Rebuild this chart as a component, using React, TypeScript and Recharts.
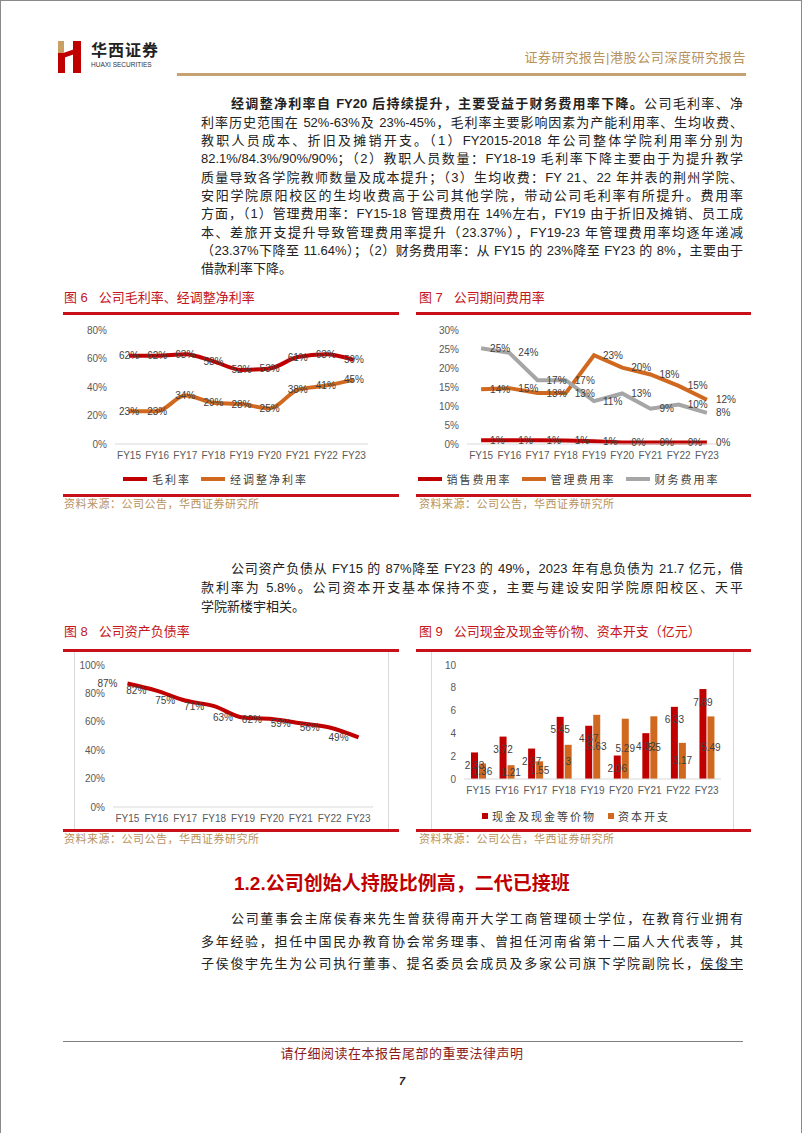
import React from "react";
import {
  LineChart,
  Line,
  BarChart,
  Bar,
  XAxis,
  YAxis,
  Legend,
  LabelList,
} from "recharts";

// chart data
const years = ["FY15", "FY16", "FY17", "FY18", "FY19", "FY20", "FY21", "FY22", "FY23"];
const grossMargin = [62, 62, 63, 58, 52, 53, 61, 63, 59];
const adjNetMargin = [23, 23, 34, 29, 28, 25, 38, 41, 45];
const sellingRate = [1.0, 1.0, 1.0, 0.9, 0.7, 0.4, 0.4, 0.4, 0.4];
const adminRate = [14.4, 14.7, 13.4, 13.4, 23.37, 20.1, 18.3, 15.3, 11.64];
const financeRate = [25.2, 24.0, 16.8, 16.8, 11.3, 13.3, 9.3, 10.4, 8.2];
const debtRatio = [87, 82, 75, 71, 63, 62, 59, 56, 49];
const cashEquiv = [2.33, 3.72, 2.67, 5.45, 4.67, 2.06, 4.02, 6.33, 7.89];
const capex = [1.36, 1.21, 1.55, 3, 5.63, 5.29, 5.5, 3.17, 5.49];

const marginTicks = [0, 20, 40, 60, 80];
const expenseTicks = [0, 5, 10, 15, 20, 25, 30];
const debtTicks = [0, 20, 40, 60, 80, 100];
const cashTicks = [0, 2, 4, 6, 8, 10];

const marginNames = ["毛利率", "经调整净利率"];
const expenseNames = ["销售费用率", "管理费用率", "财务费用率"];
const cashNames = ["现金及现金等价物", "资本开支"];

const marginData = years.map((year, i) => ({ year, gross: grossMargin[i], net: adjNetMargin[i] }));
const expenseData = years.map((year, i) => ({
  year,
  selling: sellingRate[i],
  admin: adminRate[i],
  finance: financeRate[i],
}));
const debtData = years.map((year, i) => ({ year, debt: debtRatio[i] }));
const cashData = years.map((year, i) => ({ year, cash: cashEquiv[i], capex: capex[i] }));

const RED = "#C00000";
const ORANGE = "#D0691F";
const GRAY = "#A6A6A6";
const GOLD = "#B8925C";
const TITLE_RED = "#C4161C";
const CJK = '"Liberation Sans", "Noto Sans CJK SC", sans-serif';
const LATIN = '"Liberation Sans", Arial, sans-serif';

const tickStyle = { fill: "#595959", fontSize: 10, fontFamily: LATIN };
const labelStyle = { fill: "#404040", fontSize: 10, fontFamily: LATIN };
const pct = (v: any) => `${Math.round(Number(v))}%`;

const sortByOrder = (payload: any[], order: string[]) =>
  [...payload].sort((a, b) => order.indexOf(a.value) - order.indexOf(b.value));

const LineLegend = (props: any) => {
  const { payload = [], order = [] } = props;
  return (
    <div
      style={{
        display: "flex",
        justifyContent: "center",
        alignItems: "center",
        height: 30,
        gap: 10,
        fontSize: 11,
        fontFamily: CJK,
        color: "#404040",
        letterSpacing: 2,
      }}
    >
      {sortByOrder(payload, order).map((p: any) => (
        <span key={p.value} style={{ display: "flex", alignItems: "center", gap: 5 }}>
          <svg width={24} height={6}>
            <line x1={0} y1={3} x2={24} y2={3} stroke={p.color} strokeWidth={4} />
          </svg>
          <span>{p.value}</span>
        </span>
      ))}
    </div>
  );
};

const BarLegend = (props: any) => {
  const { payload = [], order = [] } = props;
  return (
    <div
      style={{
        display: "flex",
        justifyContent: "center",
        alignItems: "center",
        height: 29,
        gap: 12,
        fontSize: 11,
        fontFamily: CJK,
        color: "#404040",
        letterSpacing: 2,
      }}
    >
      {sortByOrder(payload, order).map((p: any) => (
        <span key={p.value} style={{ display: "flex", alignItems: "center", gap: 4 }}>
          <span style={{ width: 6, height: 6, background: p.color, display: "inline-block" }} />
          <span>{p.value}</span>
        </span>
      ))}
    </div>
  );
};

// bar value label without Recharts' width-based wrapping
const barLabel = (where: "top" | "center") => (props: any) => {
  const { x, y, width, height, value } = props;
  const cx = Number(x) + Number(width) / 2;
  const cy = where === "center" ? Number(y) + Number(height) / 2 : Number(y) + 13;
  return (
    <text
      x={cx}
      y={cy}
      textAnchor="middle"
      dominantBaseline="central"
      fill={labelStyle.fill}
      fontSize={labelStyle.fontSize}
      fontFamily={labelStyle.fontFamily}
    >
      {value}
    </text>
  );
};

const abs = (left: number, top: number, extra: React.CSSProperties = {}): React.CSSProperties => ({
  position: "absolute",
  left,
  top,
  ...extra,
});

// one justified line of body text, y is the line centre
const TextLine = ({
  y,
  x = 200,
  w = 542,
  last = false,
  children,
}: {
  y: number;
  x?: number;
  w?: number;
  last?: boolean;
  children: React.ReactNode;
}) => (
  <div
    style={abs(x, y - 10, {
      width: w,
      height: 20,
      lineHeight: "20px",
      fontSize: 13,
      fontFamily: CJK,
      color: "#222",
      textAlign: "justify",
      textAlignLast: last ? "left" : "justify",
    })}
  >
    {children}
  </div>
);

const ChartTitle = ({ x, y, text }: { x: number; y: number; text: string }) => (
  <div style={abs(x, y - 9, { fontSize: 13, lineHeight: "18px", color: TITLE_RED, fontFamily: CJK, whiteSpace: "pre" })}>
    {text}
  </div>
);

const Rule = ({ x, y, w }: { x: number; y: number; w: number }) => (
  <div style={abs(x, y - 1, { width: w, height: 2.5, background: "#C8101A" })} />
);

const Source = ({ x, y }: { x: number; y: number }) => (
  <div style={abs(x, y - 8, { fontSize: 11, lineHeight: "16px", color: GOLD, fontFamily: CJK, letterSpacing: 0.5 })}>
    资料来源：公司公告，华西证券研究所
  </div>
);

export default function App() {
  return (
    <div
      style={{
        position: "absolute",
        left: 0,
        top: 0,
        width: 802,
        height: 1133,
        background: "#fff",
        border: "1px solid #8a8a8a",
        borderBottom: "none",
        boxSizing: "border-box",
        overflow: "hidden",
      }}
    >
      {/* header */}
      <div style={abs(57, 40, { width: 6, height: 16, background: "#C9A063" })} />
      <div style={abs(57, 52, { width: 7, height: 20, background: RED })} />
      <div style={abs(63, 50, { width: 10, height: 5, background: RED, transform: "skewY(-20deg)" })} />
      <div style={abs(72, 40, { width: 8, height: 32, background: RED })} />
      <div style={abs(90, 41, { fontSize: 16, fontWeight: 700, fontFamily: CJK, color: "#222", letterSpacing: 1, lineHeight: "18px" })}>
        华西证券
      </div>
      <div style={abs(90, 60, { fontSize: 6.5, fontFamily: LATIN, color: "#333", lineHeight: "8px" })}>HUAXI SECURITIES</div>
      <div style={abs(480, 49, { width: 265, textAlign: "right", fontSize: 13, lineHeight: "16px", color: GOLD, fontFamily: CJK, letterSpacing: 0.6 })}>
        证券研究报告|港股公司深度研究报告
      </div>
      <div style={abs(176, 72, { width: 569, height: 2.5, background: "#C6A273" })} />

      {/* paragraph 1 */}
      <TextLine y={103} x={230} w={512}>
        <b>经调整净利率自 FY20 后持续提升，主要受益于财务费用率下降。</b>公司毛利率、净
      </TextLine>
      <TextLine y={122}>利率历史范围在 52%-63%及 23%-45%，毛利率主要影响因素为产能利用率、生均收费、</TextLine>
      <TextLine y={140}>教职人员成本、折旧及摊销开支。（1）FY2015-2018 年公司整体学院利用率分别为</TextLine>
      <TextLine y={158}>82.1%/84.3%/90%/90%；（2）教职人员数量：FY18-19 毛利率下降主要由于为提升教学</TextLine>
      <TextLine y={177}>质量导致各学院教师数量及成本提升；（3）生均收费：FY 21、22 年并表的荆州学院、</TextLine>
      <TextLine y={195}>安阳学院原阳校区的生均收费高于公司其他学院，带动公司毛利率有所提升。费用率</TextLine>
      <TextLine y={213}>方面，（1）管理费用率：FY15-18 管理费用在 14%左右，FY19 由于折旧及摊销、员工成</TextLine>
      <TextLine y={232}>本、差旅开支提升导致管理费用率提升（23.37%），FY19-23 年管理费用率均逐年递减</TextLine>
      <TextLine y={250}>（23.37%下降至 11.64%）；（2）财务费用率：从 FY15 的 23%降至 FY23 的 8%，主要由于</TextLine>
      <TextLine y={268} last>借款利率下降。</TextLine>

      {/* figure 6 & 7 frames */}
      <ChartTitle x={63} y={297} text="图 6   公司毛利率、经调整净利率" />
      <ChartTitle x={418} y={297} text="图 7   公司期间费用率" />
      <Rule x={62} y={312} w={336} />
      <Rule x={415} y={312} w={335} />
      <Rule x={62} y={494} w={336} />
      <Rule x={415} y={494} w={335} />
      <Source x={63} y={503} />
      <Source x={418} y={503} />

      <div style={abs(62, 313)}>
        <LineChart width={336} height={180} data={marginData} margin={{ top: 16, right: 31, left: 0, bottom: 0 }}>
          <XAxis
            dataKey="year"
            scale="band"
            interval={0}
            height={20}
            axisLine={{ stroke: "#D9D9D9" }}
            tickLine={false}
            tick={tickStyle}
          />
          <YAxis
            domain={[0, 80]}
            ticks={marginTicks}
            tickFormatter={(v) => `${v}%`}
            width={52}
            axisLine={false}
            tickLine={false}
            tick={tickStyle}
          />
          <Legend verticalAlign="bottom" height={30} content={<LineLegend order={marginNames} />} />
          <Line
            type="monotone"
            dataKey="gross"
            name={marginNames[0]}
            stroke={RED}
            strokeWidth={4}
            dot={false}
            isAnimationActive={false}
          >
            <LabelList dataKey="gross" position="center" formatter={pct} style={labelStyle} />
          </Line>
          <Line
            type="monotone"
            dataKey="net"
            name={marginNames[1]}
            stroke={ORANGE}
            strokeWidth={4}
            dot={false}
            isAnimationActive={false}
          >
            <LabelList dataKey="net" position="center" formatter={pct} style={labelStyle} />
          </Line>
        </LineChart>
      </div>

      <div style={abs(415, 313)}>
        <LineChart width={335} height={180} data={expenseData} margin={{ top: 16, right: 30, left: 0, bottom: 0 }}>
          <XAxis
            dataKey="year"
            scale="band"
            interval={0}
            height={20}
            axisLine={{ stroke: "#D9D9D9" }}
            tickLine={false}
            tick={tickStyle}
          />
          <YAxis
            domain={[0, 30]}
            ticks={expenseTicks}
            tickFormatter={(v) => `${v}%`}
            width={51}
            axisLine={false}
            tickLine={false}
            tick={tickStyle}
          />
          <Legend verticalAlign="bottom" height={30} content={<LineLegend order={expenseNames} />} />
          <Line dataKey="selling" name={expenseNames[0]} stroke={RED} strokeWidth={4} dot={false} isAnimationActive={false}>
            <LabelList dataKey="selling" position="right" offset={9} formatter={pct} style={labelStyle} />
          </Line>
          <Line dataKey="admin" name={expenseNames[1]} stroke={ORANGE} strokeWidth={4} dot={false} isAnimationActive={false}>
            <LabelList dataKey="admin" position="right" offset={9} formatter={pct} style={labelStyle} />
          </Line>
          <Line dataKey="finance" name={expenseNames[2]} stroke={GRAY} strokeWidth={4} dot={false} isAnimationActive={false}>
            <LabelList dataKey="finance" position="right" offset={9} formatter={pct} style={labelStyle} />
          </Line>
        </LineChart>
      </div>

      {/* paragraph 2 */}
      <TextLine y={568} x={230} w={512}>
        公司资产负债从 FY15 的 87%降至 FY23 的 49%，2023 年有息负债为 21.7 亿元，借
      </TextLine>
      <TextLine y={587}>款利率为 5.8%。公司资本开支基本保持不变，主要与建设安阳学院原阳校区、天平</TextLine>
      <TextLine y={606} last>学院新楼宇相关。</TextLine>

      {/* figure 8 & 9 frames */}
      <ChartTitle x={63} y={631} text="图 8   公司资产负债率" />
      <ChartTitle x={418} y={631} text="图 9   公司现金及现金等价物、资本开支（亿元）" />
      <div style={abs(73, 650, { width: 315, height: 179, borderLeft: "1px solid #D9D9D9", borderRight: "1px solid #D9D9D9", boxSizing: "border-box" })} />
      <div style={abs(430, 650, { width: 303, height: 179, borderLeft: "1px solid #D9D9D9", borderRight: "1px solid #D9D9D9", boxSizing: "border-box" })} />
      <Rule x={62} y={649} w={336} />
      <Rule x={415} y={649} w={335} />
      <Rule x={62} y={829} w={336} />
      <Rule x={415} y={829} w={335} />
      <Source x={63} y={838} />
      <Source x={418} y={838} />

      <div style={abs(73, 650)}>
        <LineChart width={315} height={179} data={debtData} margin={{ top: 14, right: 16, left: 0, bottom: 1 }}>
          <XAxis
            dataKey="year"
            scale="band"
            interval={0}
            height={22}
            axisLine={{ stroke: "#D9D9D9" }}
            tickLine={false}
            tick={tickStyle}
          />
          <YAxis
            domain={[0, 100]}
            ticks={debtTicks}
            tickFormatter={(v) => `${v}%`}
            width={39}
            axisLine={false}
            tickLine={false}
            tick={tickStyle}
          />
          <Line type="monotone" dataKey="debt" name="资产负债率" stroke={RED} strokeWidth={4} dot={false} isAnimationActive={false}>
            <LabelList dataKey="debt" position="left" offset={10} formatter={pct} style={labelStyle} />
          </Line>
        </LineChart>
      </div>

      <div style={abs(430, 650)}>
        <BarChart width={303} height={179} data={cashData} margin={{ top: 14, right: 13, left: 0, bottom: 0 }} barGap={1}>
          <XAxis
            dataKey="year"
            interval={0}
            height={22}
            axisLine={{ stroke: "#D9D9D9" }}
            tickLine={false}
            tick={tickStyle}
          />
          <YAxis
            domain={[0, 10]}
            ticks={cashTicks}
            width={33}
            axisLine={false}
            tickLine={false}
            tick={tickStyle}
          />
          <Legend verticalAlign="bottom" height={29} content={<BarLegend order={cashNames} />} />
          <Bar dataKey="cash" name={cashNames[0]} fill={RED} barSize={7} isAnimationActive={false}>
            <LabelList dataKey="cash" content={barLabel("top")} />
          </Bar>
          <Bar dataKey="capex" name={cashNames[1]} fill={ORANGE} barSize={7} isAnimationActive={false}>
            <LabelList dataKey="capex" content={barLabel("center")} />
          </Bar>
        </BarChart>
      </div>

      {/* section 1.2 */}
      <div style={abs(233, 871, { fontSize: 19, lineHeight: "24px", fontWeight: 700, color: RED, fontFamily: CJK })}>
        1.2.公司创始人持股比例高，二代已接班
      </div>
      <TextLine y={918} x={230} w={512}>
        公司董事会主席侯春来先生曾获得南开大学工商管理硕士学位，在教育行业拥有
      </TextLine>
      <TextLine y={941}>多年经验，担任中国民办教育协会常务理事、曾担任河南省第十二届人大代表等，其</TextLine>
      <TextLine y={963}>
        子侯俊宇先生为公司执行董事、提名委员会成员及多家公司旗下学院副院长，
        <span style={{ textDecoration: "underline" }}>侯俊宇</span>
      </TextLine>

      {/* footer */}
      <div style={abs(62, 1040, { width: 680, height: 1, background: "#7f7f7f" })} />
      <div style={abs(0, 1044, { width: 802, textAlign: "center", fontSize: 13, lineHeight: "18px", color: "#8B1A1A", fontFamily: CJK, letterSpacing: 0.5 })}>
        请仔细阅读在本报告尾部的重要法律声明
      </div>
      <div style={abs(0, 1072, { width: 802, textAlign: "center", fontSize: 11, lineHeight: "16px", fontWeight: 700, fontStyle: "italic", fontFamily: LATIN, color: "#222" })}>
        7
      </div>
    </div>
  );
}
